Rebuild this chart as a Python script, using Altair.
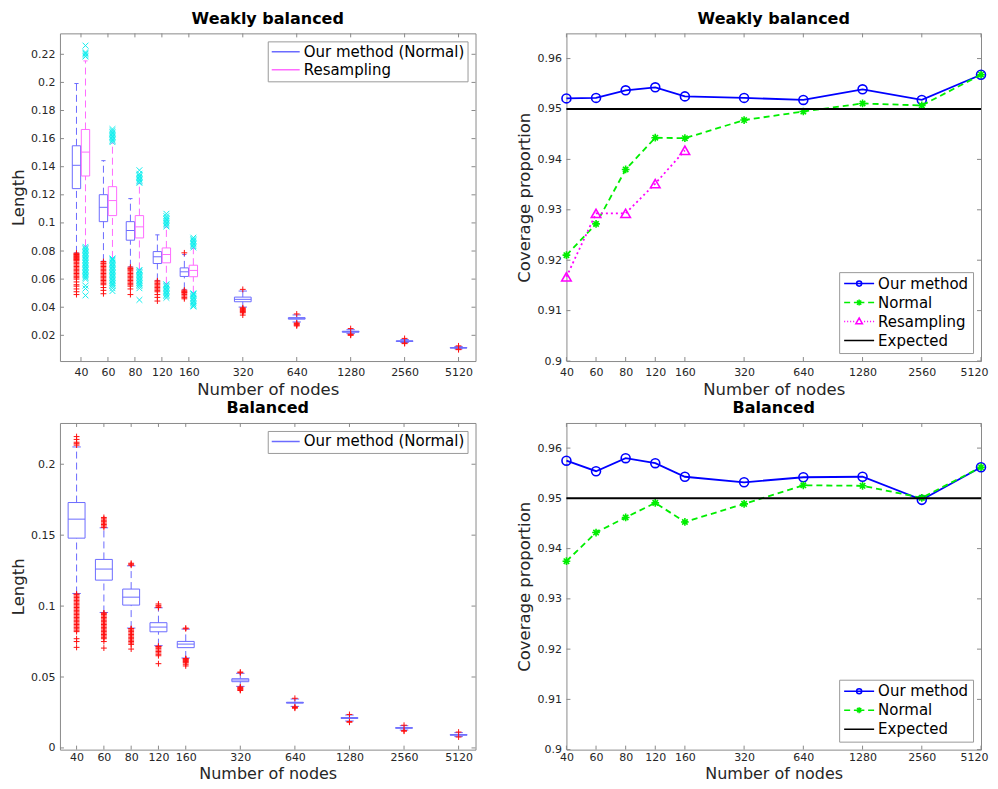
import altair as alt
import pandas as pd

# ---------------- data ----------------
nodes = [40, 60, 80, 120, 160, 320, 640, 1280, 2560, 5120]
pos = [1, 2, 3, 4, 5, 7, 9, 11, 13, 15]

# Weakly balanced, interval length boxplots: Our method (Normal)
wb_our_whi = [0.1992, 0.1443, 0.1173, 0.0915, 0.0775, 0.0515, 0.0345, 0.0240, 0.0170, 0.0120]
wb_our_q3 = [0.1549, 0.1201, 0.1009, 0.0796, 0.0680, 0.0472, 0.0326, 0.0229, 0.0161, 0.0113]
wb_our_med = [0.1410, 0.1111, 0.0946, 0.0759, 0.0652, 0.0456, 0.0321, 0.0226, 0.0159, 0.0111]
wb_our_q1 = [0.1244, 0.1009, 0.0877, 0.0711, 0.0619, 0.0439, 0.0315, 0.0222, 0.0156, 0.0109]
wb_our_wlo = [0.0787, 0.0728, 0.0688, 0.0591, 0.0527, 0.0401, 0.0295, 0.0212, 0.0149, 0.0104]
wb_our_out_hi = [[], [], [], [], [0.0787], [0.0527], [0.0352], [0.0248], [0.0178], [0.0125]]
wb_our_out_lo = [
    [0.0785, 0.078, 0.0775, 0.077, 0.0765, 0.076, 0.0755, 0.075, 0.0745, 0.074, 0.0735, 0.073,
     0.072, 0.071, 0.070, 0.069, 0.068, 0.067, 0.066, 0.065, 0.064, 0.063, 0.062, 0.061, 0.060,
     0.058, 0.056, 0.055, 0.053, 0.051, 0.049],
    [0.0725, 0.0715, 0.071, 0.070, 0.069, 0.068, 0.067, 0.066, 0.065, 0.064, 0.063, 0.062, 0.061,
     0.060, 0.059, 0.058, 0.057, 0.056, 0.054, 0.052, 0.0496],
    [0.0685, 0.0675, 0.067, 0.066, 0.065, 0.064, 0.063, 0.062, 0.061, 0.060, 0.059, 0.058, 0.057,
     0.056, 0.055, 0.053, 0.049],
    [0.0588, 0.058, 0.057, 0.056, 0.055, 0.054, 0.053, 0.052, 0.051, 0.049, 0.047, 0.0444],
    [0.0522, 0.0515, 0.051, 0.0505, 0.050, 0.049, 0.048, 0.047, 0.046],
    [0.0396, 0.039, 0.0385, 0.038, 0.0375, 0.037, 0.0365, 0.036, 0.0344],
    [0.0288, 0.0283, 0.0278, 0.0272, 0.0267],
    [0.0208, 0.0204, 0.0200],
    [0.0145, 0.0141],
    [0.0101, 0.0098],
]

# Weakly balanced, interval length boxplots: Resampling
wb_res_whi = [0.2153, 0.1568, 0.1280, 0.0970, 0.0820]
wb_res_q3 = [0.1665, 0.1258, 0.1052, 0.0822, 0.0699]
wb_res_med = [0.1504, 0.1159, 0.0972, 0.0775, 0.0662]
wb_res_q1 = [0.1334, 0.1052, 0.0893, 0.0716, 0.0617]
wb_res_wlo = [0.0834, 0.0751, 0.0669, 0.0567, 0.0503]
wb_res_out_hi = [
    [0.2184, 0.2195, 0.2205, 0.2215, 0.2262],
    [0.1575, 0.1585, 0.1595, 0.1605, 0.1615, 0.1625, 0.1635, 0.1645, 0.1655, 0.1668],
    [0.1285, 0.129, 0.130, 0.131, 0.132, 0.133, 0.134, 0.135, 0.1375],
    [0.0975, 0.0985, 0.0995, 0.1005, 0.1015, 0.1025, 0.1035, 0.1048, 0.1065],
    [0.0825, 0.0835, 0.0845, 0.0855, 0.0865, 0.0875, 0.0885, 0.0895],
]
wb_res_out_lo = [
    [0.0830, 0.082, 0.081, 0.080, 0.079, 0.078, 0.077, 0.076, 0.075, 0.074, 0.073, 0.072, 0.071,
     0.070, 0.069, 0.068, 0.067, 0.066, 0.065, 0.064, 0.063, 0.062, 0.061, 0.060, 0.0553, 0.0533,
     0.0484],
    [0.0747, 0.074, 0.073, 0.072, 0.071, 0.070, 0.069, 0.068, 0.067, 0.066, 0.065, 0.064, 0.063,
     0.062, 0.061, 0.060, 0.059, 0.058, 0.057, 0.056, 0.055, 0.0535, 0.0515],
    [0.0665, 0.066, 0.065, 0.064, 0.063, 0.062, 0.061, 0.060, 0.059, 0.058, 0.057, 0.056, 0.055,
     0.0535, 0.0452],
    [0.0563, 0.056, 0.055, 0.054, 0.053, 0.052, 0.051, 0.050, 0.049, 0.048, 0.0467],
    [0.0499, 0.0495, 0.049, 0.048, 0.047, 0.046, 0.045, 0.044, 0.043, 0.042, 0.041, 0.0405],
]

# Balanced, interval length boxplots: Our method (Normal)
b_our_whi = [0.2122, 0.1552, 0.1284, 0.0988, 0.0838, 0.0526, 0.0345, 0.0232, 0.0157, 0.0108]
b_our_q3 = [0.1730, 0.1329, 0.1120, 0.0883, 0.0751, 0.0488, 0.0322, 0.0214, 0.0143, 0.0094]
b_our_med = [0.1613, 0.1261, 0.1063, 0.0852, 0.0732, 0.0479, 0.0319, 0.0211, 0.0141, 0.0092]
b_our_q1 = [0.1479, 0.1183, 0.1007, 0.0819, 0.0707, 0.0467, 0.0316, 0.0208, 0.0139, 0.0090]
b_our_wlo = [0.1089, 0.0955, 0.0845, 0.0721, 0.0634, 0.0434, 0.0293, 0.0190, 0.0126, 0.0080]
b_our_out_hi = [
    [0.2135, 0.2145, 0.2155, 0.2175, 0.2195],
    [0.1555, 0.1565, 0.1575, 0.1585, 0.1595, 0.1605, 0.1615, 0.1625],
    [0.1288, 0.1295, 0.1302],
    [0.0990, 0.0995, 0.1005, 0.1015],
    [0.0840, 0.0845],
    [0.0530, 0.0535],
    [0.0350],
    [0.0236],
    [0.0160],
    [0.0112],
]
b_our_out_lo = [
    [0.1085, 0.108, 0.107, 0.106, 0.105, 0.104, 0.103, 0.102, 0.101, 0.100, 0.099, 0.098, 0.097,
     0.096, 0.095, 0.094, 0.093, 0.092, 0.091, 0.090, 0.089, 0.088, 0.087, 0.086, 0.085, 0.084,
     0.083, 0.082, 0.077, 0.075, 0.0709],
    [0.0951, 0.095, 0.094, 0.093, 0.092, 0.091, 0.090, 0.089, 0.088, 0.087, 0.086, 0.085, 0.084,
     0.083, 0.082, 0.081, 0.080, 0.079, 0.078, 0.077, 0.075, 0.0704],
    [0.0841, 0.084, 0.083, 0.082, 0.081, 0.080, 0.079, 0.078, 0.077, 0.076, 0.075, 0.074, 0.073,
     0.0697],
    [0.0717, 0.0715, 0.071, 0.070, 0.069, 0.068, 0.067, 0.066, 0.065, 0.0594],
    [0.0630, 0.0628, 0.0625, 0.062, 0.0615, 0.061, 0.0605, 0.060, 0.059, 0.0578],
    [0.0430, 0.0425, 0.042, 0.0415, 0.041, 0.0405],
    [0.0290, 0.0285, 0.0280],
    [0.0186, 0.0181],
    [0.0122, 0.0118],
    [0.0077],
]

# Coverage proportions
wb_cov_our = [0.9521, 0.9522, 0.9537, 0.9543, 0.9525, 0.9522, 0.9518, 0.9539, 0.9518, 0.9568]
wb_cov_normal = [0.9210, 0.9272, 0.9380, 0.9443, 0.9442, 0.9478, 0.9495, 0.9511, 0.9507, 0.9568]
wb_cov_resampling = [0.9167, 0.9293, 0.9293, 0.9352, 0.9418]
b_cov_our = [0.9575, 0.9554, 0.9580, 0.9570, 0.9543, 0.9532, 0.9542, 0.9543, 0.9497, 0.9562]
b_cov_normal = [0.9375, 0.9432, 0.9462, 0.9491, 0.9453, 0.9489, 0.9526, 0.9525, 0.9501, 0.9562]
expected = [0.95]

len_ticks_wb = [0.02, 0.04, 0.06, 0.08, 0.1, 0.12, 0.14, 0.16, 0.18, 0.2, 0.22]
len_ticks_b = [0, 0.05, 0.1, 0.15, 0.2]
cov_ticks = [0.9, 0.91, 0.92, 0.93, 0.94, 0.95, 0.96]

# ---------------- styling ----------------
FONT = "DejaVu Sans"
FRAME = "#8a8a8a"
TXT = "#262626"
BLUE_BOX = "#6b6bff"
PINK_BOX = "#ff6bff"
RED = "#ff1010"
CYAN = "#12eeee"
PLUS = "M-1,0L1,0M0,-1L0,1"
XMARK = "M-1,-1L1,1M-1,1L1,-1"
ASTER = "M-1,0L1,0M0,-1L0,1M-0.7,-0.7L0.7,0.7M-0.7,0.7L0.7,-0.7"

LW, RW = 416, 415
TH, BH = 328, 327

lab_arr = [""] * 16
for p, n in zip(pos, nodes):
    lab_arr[p] = str(n)
label_expr = "[" + ",".join("'%s'" % s for s in lab_arr) + "][datum.value]"


def x_axis(lp, tp, tfs, last_shift=0):
    kw = {}
    if last_shift:
        kw["labelOffset"] = {"condition": {"test": "datum.value == %d" % pos[-1], "value": last_shift},
                             "value": 0}
    return alt.Axis(values=pos, labelExpr=label_expr, title="Number of nodes",
                    labelFlush=False, labelOverlap=False, ticks=False, domain=False,
                    grid=False, labelPadding=lp, titlePadding=tp,
                    labelFont=FONT, labelFontSize=11, labelColor=TXT,
                    titleFont=FONT, titleFontSize=tfs, titleFontWeight="normal", titleColor=TXT,
                    **kw)


def y_axis(title, vals):
    return alt.Axis(values=vals, format="~g", title=title, labelFlush=False,
                    labelOverlap=False, ticks=False, domain=False, grid=False,
                    labelPadding=5, titlePadding=4,
                    labelFont=FONT, labelFontSize=11, labelColor=TXT,
                    titleFont=FONT, titleFontSize=16.5, titleFontWeight="normal", titleColor=TXT)


def frame_ticks(xscale, yscale, ytitle, yvals, W, H, xax):
    tx = alt.Chart(pd.DataFrame({"p": pos}))
    ty = alt.Chart(pd.DataFrame({"t": yvals}))
    xe = alt.X("p:Q", scale=xscale, axis=xax)
    ye = alt.Y("t:Q", scale=yscale, axis=y_axis(ytitle, yvals))
    return [
        tx.mark_rule(color=FRAME, strokeWidth=1).encode(x=xe, y=alt.value(0), y2=alt.value(4)),
        tx.mark_rule(color=FRAME, strokeWidth=1).encode(x=xe, y=alt.value(H - 4), y2=alt.value(H)),
        ty.mark_rule(color=FRAME, strokeWidth=1).encode(y=ye, x=alt.value(0), x2=alt.value(4)),
        ty.mark_rule(color=FRAME, strokeWidth=1).encode(y=ye, x=alt.value(W - 4), x2=alt.value(W)),
    ]


def box_layers(xscale, yscale, ytitle, yvals, xax, positions, offset, bw, whi, q3, med, q1, wlo,
               out_hi, out_lo, color, ocolor, oshape):
    rows = []
    for i, p in enumerate(positions):
        c = p + offset[i]
        w = bw[i]
        rows.append(dict(pos=c, x0=c - w / 2, x1=c + w / 2, c0=c - w / 4, c1=c + w / 4,
                         whi=whi[i], q3=q3[i], med=med[i], q1=q1[i], wlo=wlo[i]))
    df = pd.DataFrame(rows)
    orows = []
    for i, p in enumerate(positions):
        c = p + offset[i]
        for v in out_hi[i] + out_lo[i]:
            orows.append(dict(pos=c, v=v))
    odf = pd.DataFrame(orows)

    def X(f):
        return alt.X(f + ":Q", scale=xscale, axis=xax)

    def Y(f):
        return alt.Y(f + ":Q", scale=yscale, axis=y_axis(ytitle, yvals))

    base = alt.Chart(df)
    return [
        base.mark_rule(color=color, strokeWidth=1, strokeDash=[7, 4]).encode(x=X("pos"), y=Y("q3"), y2="whi"),
        base.mark_rule(color=color, strokeWidth=1, strokeDash=[7, 4]).encode(x=X("pos"), y=Y("wlo"), y2="q1"),
        base.mark_rule(color=color, strokeWidth=1).encode(x=X("c0"), x2="c1", y=Y("whi")),
        base.mark_rule(color=color, strokeWidth=1).encode(x=X("c0"), x2="c1", y=Y("wlo")),
        base.mark_rect(fillOpacity=0, stroke=color, strokeWidth=1).encode(x=X("x0"), x2="x1", y=Y("q1"), y2="q3"),
        base.mark_rule(color=color, strokeWidth=1).encode(x=X("x0"), x2="x1", y=Y("med")),
        alt.Chart(odf).mark_point(shape=oshape, filled=False, color=ocolor, size=34, strokeWidth=1,
                                  opacity=1).encode(x=X("pos"), y=Y("v")),
    ]


def legend_layer(field, labels, colors, paths, orient, ssize, swidth, pad, rpad):
    leg = alt.Legend(title=None, orient=orient, offset=8, fillColor="white", strokeColor="#9a9a9a",
                     padding=pad, rowPadding=rpad, labelFont=FONT, labelFontSize=15, labelColor="black",
                     symbolSize=ssize, symbolOpacity=1, symbolFillColor="transparent",
                     labelOffset=3, labelLimit=400, clipHeight=15)
    df = pd.DataFrame({field: labels})
    return alt.Chart(df).transform_filter("false").mark_point(filled=False, strokeWidth=swidth).encode(
        color=alt.Color(field + ":N", scale=alt.Scale(domain=labels, range=colors), legend=leg),
        shape=alt.Shape(field + ":N", scale=alt.Scale(domain=labels, range=paths), legend=leg),
    )


def title(t):
    return alt.TitleParams(t, font=FONT, fontSize=16, fontWeight="bold", color="black", offset=6)


x_tl = x_axis(5, 4, 16.5)
x_bl = x_axis(2, 3, 16)
x_tr = x_axis(5, 4, 16.5, -7)
x_br = x_axis(2, 3, 16, -7)

# ---------- top-left: weakly balanced lengths ----------
xs_tl = alt.Scale(domain=[0.22, 15.63], nice=False, zero=False)
ys_tl = alt.Scale(domain=[0.0017, 0.2349], nice=False, zero=False)
off_our = [-0.167] * 5 + [0.0] * 5
bw_our = [0.31] * 5 + [0.62] * 5
tl_layers = frame_ticks(xs_tl, ys_tl, "Length", len_ticks_wb, LW, TH, x_tl)
tl_layers += box_layers(xs_tl, ys_tl, "Length", len_ticks_wb, x_tl, pos, off_our, bw_our,
                        wb_our_whi, wb_our_q3, wb_our_med, wb_our_q1, wb_our_wlo,
                        wb_our_out_hi, wb_our_out_lo, BLUE_BOX, RED, PLUS)
tl_layers += box_layers(xs_tl, ys_tl, "Length", len_ticks_wb, x_tl, pos[:5], [0.167] * 5, [0.31] * 5,
                        wb_res_whi, wb_res_q3, wb_res_med, wb_res_q1, wb_res_wlo,
                        wb_res_out_hi, wb_res_out_lo, PINK_BOX, CYAN, XMARK)
tl_layers.append(legend_layer("s_tl", ["Our method (Normal)", "Resampling"], [BLUE_BOX, PINK_BOX],
                              ["M-1,0L1,0", "M-1,0L1,0"], "top-right", 784, 1.2, 3, 2))
tl = alt.layer(*tl_layers).properties(width=LW, height=TH, title=title("Weakly balanced"))

# ---------- bottom-left: balanced lengths ----------
xs_bl = alt.Scale(domain=[0.39, 15.62], nice=False, zero=False)
ys_bl = alt.Scale(domain=[-0.0012, 0.2291], nice=False, zero=False)
bl_layers = frame_ticks(xs_bl, ys_bl, "Length", len_ticks_b, LW, BH, x_bl)
bl_layers += box_layers(xs_bl, ys_bl, "Length", len_ticks_b, x_bl, pos, [0.0] * 10, [0.62] * 10,
                        b_our_whi, b_our_q3, b_our_med, b_our_q1, b_our_wlo,
                        b_our_out_hi, b_our_out_lo, BLUE_BOX, RED, PLUS)
bl_layers.append(legend_layer("s_bl", ["Our method (Normal)"], [BLUE_BOX], ["M-1,0L1,0"],
                              "top-right", 784, 1.2, 3, 2))
bl = alt.layer(*bl_layers).properties(width=LW, height=BH, title=title("Balanced"))


# ---------- coverage panels ----------
def coverage_panel(series, W, H, ttl, field, xax):
    xs = alt.Scale(domain=[1, 15], nice=False, zero=False)
    ys = alt.Scale(domain=[0.9, 0.965], nice=False, zero=False)
    layers = frame_ticks(xs, ys, "Coverage proportion", cov_ticks, W, H, xax)
    for name, vals, color, dash, shape, msize in series:
        df = pd.DataFrame({"pos": pos[:len(vals)], "v": vals})
        X = alt.X("pos:Q", scale=xs, axis=xax)
        Y = alt.Y("v:Q", scale=ys, axis=y_axis("Coverage proportion", cov_ticks))
        lk = dict(color=color, strokeWidth=1.8)
        if dash:
            lk["strokeDash"] = dash
        layers.append(alt.Chart(df).mark_line(**lk).encode(x=X, y=Y))
        layers.append(alt.Chart(df).mark_point(shape=shape, filled=False, color=color, size=msize,
                                               strokeWidth=1.6, opacity=1).encode(x=X, y=Y))
    layers.append(alt.Chart(pd.DataFrame({"e": expected})).mark_rule(color="black", strokeWidth=2).encode(
        y=alt.Y("e:Q", scale=ys, axis=y_axis("Coverage proportion", cov_ticks))))
    names = [s[0] for s in series] + ["Expected"]
    colors = [s[2] for s in series] + ["black"]
    leg_paths = {
        "Our method": "M-1,0L1,0M0.17,0A0.17,0.17 0 1 1 -0.17,0A0.17,0.17 0 1 1 0.17,0",
        "Normal": "M-1,0L-0.6,0M-0.35,0L0.35,0M0.6,0L1,0"
                  "M-0.2,0L0.2,0M0,-0.2L0,0.2M-0.14,-0.14L0.14,0.14M-0.14,0.14L0.14,-0.14",
        "Resampling": "M-1,0L-0.93,0M-0.8,0L-0.73,0M-0.6,0L-0.53,0M-0.4,0L-0.33,0M0.33,0L0.4,0"
                      "M0.53,0L0.6,0M0.73,0L0.8,0M0.93,0L1,0M0,-0.24L0.22,0.15L-0.22,0.15Z",
        "Expected": "M-1,0L1,0",
    }
    layers.append(legend_layer(field, names, colors, [leg_paths[n] for n in names], "bottom-right",
                               900, 1.6, 4, 3))
    return alt.layer(*layers).properties(width=W, height=H, title=title(ttl))


tr = coverage_panel([
    ("Our method", wb_cov_our, "#0000ff", None, "circle", 80),
    ("Normal", wb_cov_normal, "#00ee00", [6, 4], ASTER, 60),
    ("Resampling", wb_cov_resampling, "#ff00ff", [2, 3], "triangle-up", 90),
], RW, TH, "Weakly balanced", "s_tr", x_tr)

br = coverage_panel([
    ("Our method", b_cov_our, "#0000ff", None, "circle", 80),
    ("Normal", b_cov_normal, "#00ee00", [6, 4], ASTER, 60),
], RW, BH, "Balanced", "s_br", x_br)

chart = alt.concat(tl, tr, bl, br, columns=2, spacing={"row": 62, "column": 91},
                   bounds="flush").resolve_scale(
    color="independent", shape="independent", x="independent", y="independent"
).properties(
    padding={"left": 2, "top": 2, "right": 0, "bottom": 0}, background="white"
).configure_view(
    stroke=FRAME, strokeWidth=1
)

chart.save("out.html", embed_options={"renderer": "svg", "actions": False})
